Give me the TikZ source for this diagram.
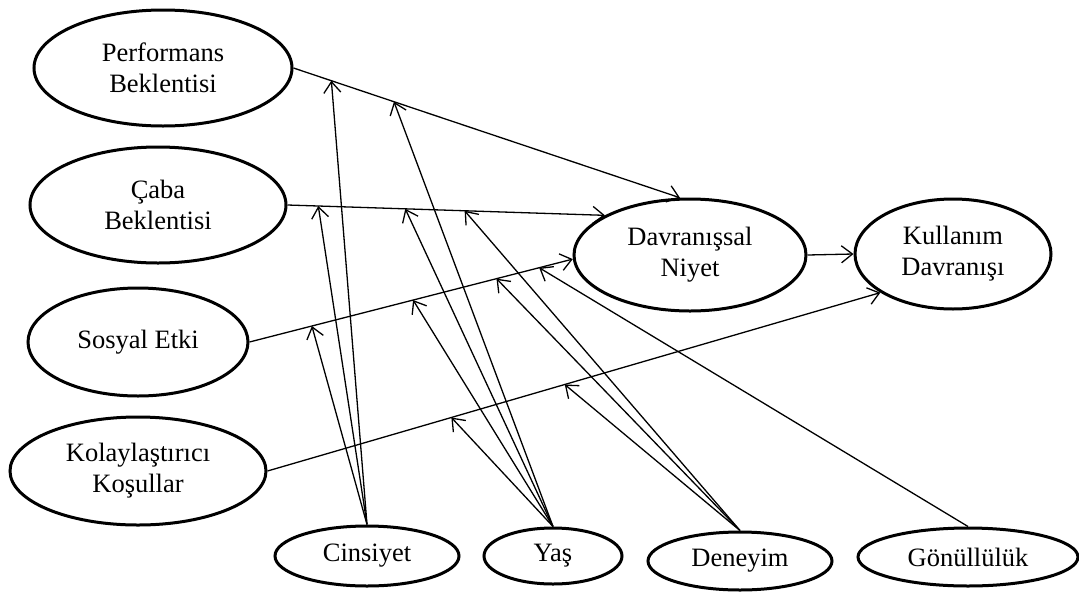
\documentclass[tikz,border=0pt]{standalone}
\usepackage{fontspec}
\setmainfont{Liberation Serif}
\usetikzlibrary{shapes.geometric,arrows.meta}
\begin{document}
\begin{tikzpicture}[x=1pt,y=-1pt,
  construct/.style={ellipse,draw,line width=3pt,inner sep=0pt,align=center,
    font=\fontsize{26.5}{31}\selectfont},
  link/.style={line width=1.3pt,-{Straight Barb[length=11pt,width=17pt,line width=1.3pt]}}]
\useasboundingbox (0,0) rectangle (1079,592);

% constructs
\node[construct,minimum width=258pt,minimum height=116pt] (pe) at (163,68) {Performans\\Beklentisi};
\node[construct,minimum width=256pt,minimum height=116pt] (ce) at (158,205) {Çaba\\Beklentisi};
\node[construct,minimum width=220pt,minimum height=108pt] (se) at (138,342) {Sosyal Etki};
\node[construct,minimum width=256pt,minimum height=108pt] (kk) at (138,471) {Kolaylaştırıcı\\Koşullar};
\node[construct,minimum width=232pt,minimum height=112pt] (dn) at (690,255) {Davranışsal\\Niyet};
\node[construct,minimum width=196pt,minimum height=110pt] (kd) at (953,254) {Kullanım\\Davranışı};

% moderators
\node[construct,minimum width=184pt,minimum height=60pt] (cin) at (367,556) {Cinsiyet};
\node[construct,minimum width=138pt,minimum height=56pt] (yas) at (553,556) {Yaş};
\node[construct,minimum width=184pt,minimum height=58pt] (den) at (740,561) {Deneyim};
\node[construct,minimum width=220pt,minimum height=58pt] (gon) at (968,557) {Gönüllülük};

% main paths, with moderation points along them
\draw[link] (pe.east) -- (dn.100)
  coordinate[pos=0.098] (m11) coordinate[pos=0.26] (m12);
\draw[link] (ce.east) -- (dn.155)
  coordinate[pos=0.097] (m21) coordinate[pos=0.371] (m22) coordinate[pos=0.558] (m23);
\draw[link] (se.east) -- (dn.182)
  coordinate[pos=0.193] (m31) coordinate[pos=0.506] (m32) coordinate[pos=0.764] (m33) coordinate[pos=0.896] (m34);
\draw[link] (kk.east) -- (kd.208)
  coordinate[pos=0.30] (m41) coordinate[pos=0.485] (m42);
\draw[link] (dn.east) -- (kd.west);

% moderating effects
\draw[link] (cin.north) -- (m11);
\draw[link] (cin.north) -- (m21);
\draw[link] (cin.north) -- (m31);
\draw[link] (yas.north) -- (m12);
\draw[link] (yas.north) -- (m22);
\draw[link] (yas.north) -- (m32);
\draw[link] (yas.north) -- (m41);
\draw[link] (den.north) -- (m23);
\draw[link] (den.north) -- (m33);
\draw[link] (den.north) -- (m42);
\draw[link] (gon.north) -- (m34);
\end{tikzpicture}
\end{document}
